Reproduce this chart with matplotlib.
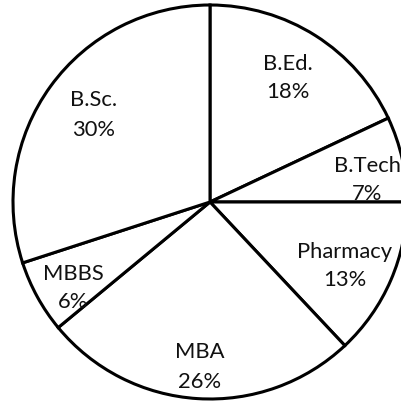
import matplotlib
matplotlib.use("Agg")
import matplotlib.pyplot as plt

# course-wise share (%)
courses = ["B.Ed.", "B.Tech", "Pharmacy", "MBA", "MBBS", "B.Sc."]
shares = [18, 7, 13, 26, 6, 30]

# label block centres in pixel coords (x from left, y from top)
label_x = [288, 367, 345, 200, 73, 94]
label_y = [76, 178, 264, 365, 286, 113]

W, H = 401, 404
fig = plt.figure(figsize=(W / 100, H / 100), dpi=100)
ax = fig.add_axes([0, 0, 1, 1])

cx, cy, r = 210, H - 202, 197
ax.pie(shares, startangle=90, counterclock=False, center=(cx, cy), radius=r,
       colors=["white"] * len(shares),
       wedgeprops=dict(edgecolor="black", linewidth=2.2), frame=True)
ax.set_xlim(0, W)
ax.set_ylim(0, H)
ax.set_aspect("equal")
ax.axis("off")

gap = 29     # distance between the two text lines (px)
half_cap = 8  # half of cap height (px)
for name, val, x, y in zip(courses, shares, label_x, label_y):
    for txt, yy in ((name, y - gap / 2), (f"{val}%", y + gap / 2)):
        ax.text(x, H - (yy + half_cap), txt, ha="center", va="baseline",
                fontsize=15.8, family="Lato", color="#111111")

fig.savefig("out.png", dpi=100)
